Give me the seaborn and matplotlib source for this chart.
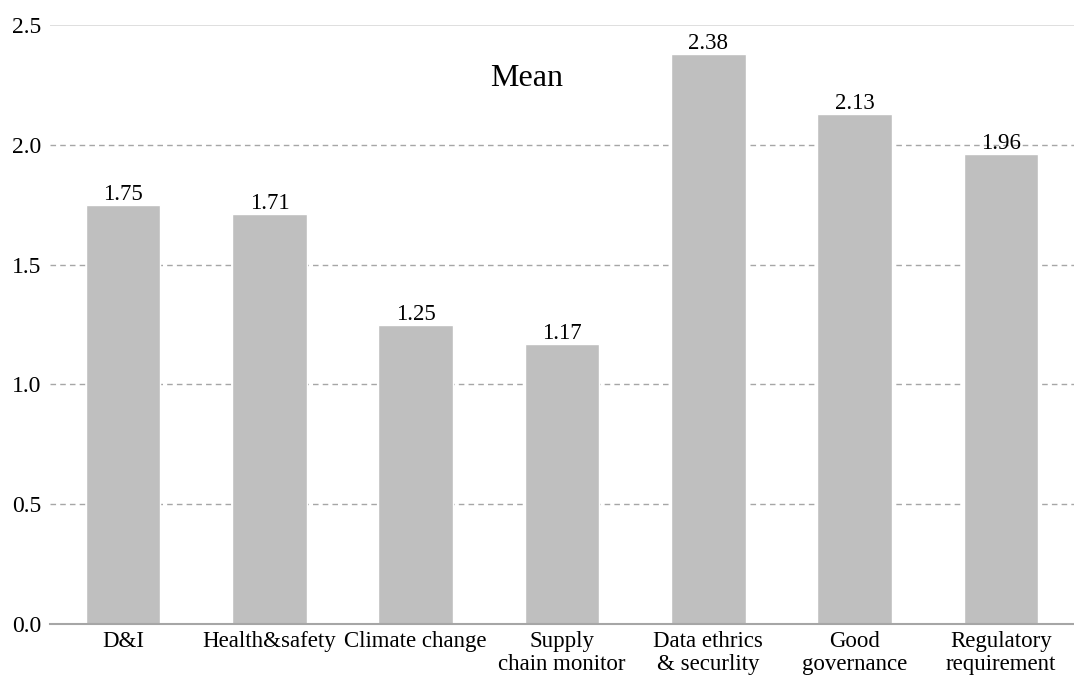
import matplotlib
matplotlib.use('Agg')
import matplotlib.pyplot as plt
import seaborn as sns
import pandas as pd

# Chart data
categories = ['D&I', 'Health&safety', 'Climate change', 'Supply\nchain monitor',
              'Data ethrics\n& securlity', 'Good\ngovernance', 'Regulatory\nrequirement']
means = [1.75, 1.71, 1.25, 1.17, 2.38, 2.13, 1.96]
yticks = [0.0, 0.5, 1.0, 1.5, 2.0, 2.5]

sns.set_theme(style='white', rc={'text.color': 'black', 'xtick.color': 'black',
                                 'ytick.color': 'black', 'axes.labelcolor': 'black'})
plt.rcParams['font.family'] = ['Liberation Serif', 'DejaVu Serif']

df = pd.DataFrame({'category': categories, 'mean': means})

fig = plt.figure(figsize=(10.74, 6.78), dpi=100)
ax = fig.add_axes([0.0466, 0.0796, 0.9534, 0.8835])

# gridlines behind bars
for y in yticks[1:-1]:
    ax.axhline(y, color='#a6a6a6', linestyle=(0, (4, 3)), linewidth=1, zorder=0)
ax.axhline(2.5, color='#d9d9d9', linewidth=1.2, zorder=0)

sns.barplot(data=df, x='category', y='mean', color='#bfbfbf', saturation=1,
            width=0.51, ax=ax, zorder=2)

ax.bar_label(ax.containers[0], fmt='%.2f', fontsize=16.5, padding=0, color='black')

ax.set_ylim(0, 2.5)
ax.set_xlim(-0.5, 6.5)
ax.set_yticks(yticks)
ax.set_yticklabels([f'{v:.1f}' for v in yticks], fontsize=17)
ax.set_xlabel('')
ax.set_ylabel('')
ax.tick_params(axis='x', labelsize=16.5, direction='in', length=5, width=1.2,
               color='black', pad=5, bottom=True)
ax.tick_params(axis='y', length=0, pad=6)
for lbl in ax.get_xticklabels():
    lbl.set_linespacing(1.12)

for s in ['top', 'right', 'left']:
    ax.spines[s].set_visible(False)
ax.spines['bottom'].set_color('#a6a6a6')
ax.spines['bottom'].set_linewidth(1.5)
ax.spines['bottom'].set_zorder(3)

ax.text(0.465, 0.91, 'Mean', transform=ax.transAxes, ha='center', va='center', fontsize=23)

fig.savefig('out.png', dpi=100)
